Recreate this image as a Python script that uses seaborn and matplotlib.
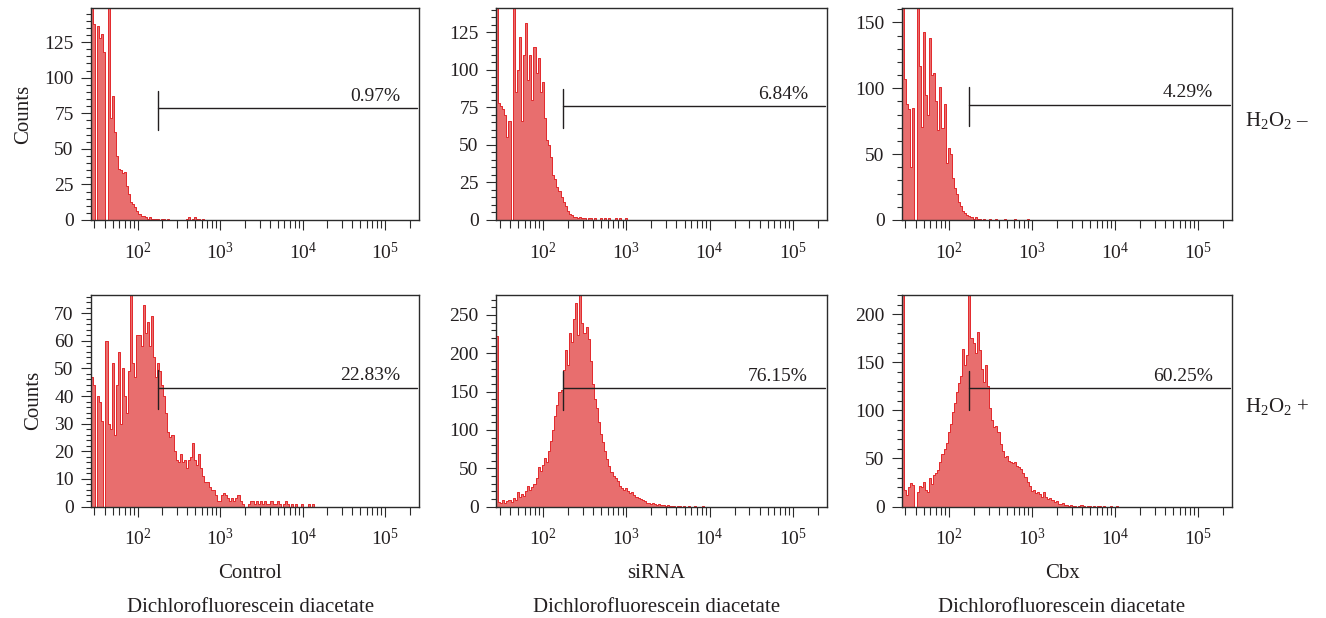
import numpy as np
import pandas as pd
import matplotlib
matplotlib.use("Agg")
import matplotlib.pyplot as plt
import matplotlib.ticker as mticker
import seaborn as sns

# ---------------- data ----------------
LOG_START = 1.435      # log10 of the first bin edge
BIN_W = 0.025          # bin width in log10 units

# counts per log bin, H2O2 - row
ctrl_neg = [150, 138, 0, 136, 128, 131, 118, 0, 150, 72, 87, 62, 45, 36, 35, 33, 34, 24, 18, 13,
            11, 9, 6, 4, 3, 3, 2, 1, 2, 1, 1, 1, 1, 0, 1, 1, 0, 1, 0, 0,
            0, 0, 0, 0, 0, 0, 1, 2, 0, 1, 2, 1, 1, 0, 1]
sirna_neg = [145, 78, 76, 74, 70, 55, 66, 0, 145, 85, 100, 122, 66, 110, 131, 93, 110, 80, 115, 98,
             108, 85, 92, 68, 53, 50, 42, 30, 27, 22, 19, 15, 12, 9, 6, 4, 3, 2, 2, 1,
             2, 1, 1, 0, 1, 1, 0, 1, 0, 0, 1, 0, 1, 0, 1, 0, 0, 1, 0, 1, 0, 0, 1]
cbx_neg = [165, 107, 88, 84, 40, 85, 0, 165, 117, 71, 143, 95, 80, 138, 110, 112, 90, 68, 101, 70,
           88, 43, 55, 50, 32, 24, 20, 14, 11, 7, 5, 4, 3, 2, 1, 2, 1, 1, 0, 1,
           0, 0, 1, 0, 0, 1, 0, 0, 0, 1, 0, 0, 0, 0, 1, 0, 0, 0, 0, 0, 1]
# counts per log bin, H2O2 + row
ctrl_pos = [47, 44, 0, 40, 38, 31, 0, 60, 30, 28, 52, 26, 44, 56, 30, 50, 40, 34, 49, 80,
            52, 47, 62, 62, 58, 73, 63, 67, 58, 69, 54, 47, 52, 49, 44, 40, 34, 27, 25, 26,
            20, 17, 16, 19, 16, 17, 14, 17, 18, 23, 17, 15, 19, 14, 11, 9, 9, 7, 6, 6,
            4, 2, 2, 4, 5, 4, 3, 2, 3, 2, 3, 4, 2, 1, 0, 0, 1, 2, 2, 1,
            2, 1, 2, 1, 2, 1, 1, 2, 1, 1, 2, 1, 0, 1, 2, 1, 0, 1, 0, 1,
            0, 0, 1, 0, 0, 1, 0, 1]
sirna_pos = [222, 6, 4, 8, 5, 7, 9, 6, 11, 9, 19, 12, 16, 14, 20, 27, 21, 25, 30, 37,
             52, 46, 54, 63, 58, 72, 86, 100, 118, 132, 150, 152, 178, 204, 185, 226, 215, 245, 266, 224,
             280, 240, 226, 234, 218, 190, 160, 140, 128, 110, 94, 84, 73, 62, 53, 45, 40, 37, 33, 27,
             24, 22, 24, 20, 18, 19, 15, 13, 11, 10, 9, 7, 5, 4, 3, 4, 3, 2, 3, 2,
             2, 1, 2, 1, 1, 1, 0, 1, 1, 0, 1, 0, 1, 0, 0, 1, 0, 0, 0, 1]
cbx_pos = [225, 17, 12, 20, 24, 22, 0, 15, 21, 20, 26, 17, 15, 30, 23, 33, 35, 38, 46, 55,
           60, 66, 78, 86, 98, 108, 119, 128, 136, 164, 147, 158, 225, 175, 170, 160, 182, 163, 143, 130,
           147, 125, 102, 90, 83, 84, 77, 65, 58, 51, 53, 47, 46, 45, 46, 42, 41, 39, 35, 31,
           25, 21, 16, 17, 14, 15, 13, 10, 15, 10, 8, 9, 7, 5, 6, 3, 3, 4, 2, 2,
           1, 2, 1, 1, 0, 1, 2, 1, 0, 1, 1, 0, 1, 0, 1, 1, 0, 1, 0, 0,
           1, 0, 0, 1]

counts = [[ctrl_neg, sirna_neg, cbx_neg], [ctrl_pos, sirna_pos, cbx_pos]]
conditions = ["Control", "siRNA", "Cbx"]
treatments = ["H$_2$O$_2$ \u2013", "H$_2$O$_2$ +"]
gate_pct = [["0.97%", "6.84%", "4.29%"], ["22.83%", "76.15%", "60.25%"]]
gate_level = [[78.5, 75.5, 87.6], [43, 154.4, 123]]
gate_start = 175
gate_end = 2.4e5
y_top = [[149, 141, 161], [76.6, 276, 220]]
y_step = [[25, 25, 50], [10, 50, 50]]
x_label = "Dichlorofluorescein diacetate"

# ---------------- style ----------------
sns.set_style("ticks")
plt.rcParams["font.family"] = ["Liberation Serif", "DejaVu Serif"]
plt.rcParams["mathtext.fontset"] = "custom"
plt.rcParams["mathtext.rm"] = "Liberation Serif"
plt.rcParams["mathtext.it"] = "Liberation Serif:italic"
plt.rcParams["mathtext.bf"] = "Liberation Serif:bold"

FILL = "#E86E6E"
EDGE = "#E3282B"
INK = "#231F20"
SPINE = "#2B2B2B"

fig = plt.figure(figsize=(13.26, 6.18), dpi=100)
W, H = 1326.0, 618.0
col_px = [(91, 328), (496, 331), (902, 330)]
row_px = [(8, 220), (295, 506.5)]

for r in range(2):
    for c in range(3):
        x0, w = col_px[c]
        top, bot = row_px[r]
        ax = fig.add_axes([x0 / W, 1 - bot / H, w / W, (bot - top) / H])
        cnt = np.asarray(counts[r][c], dtype=float)
        n = len(cnt)
        centers = LOG_START + BIN_W * (np.arange(n) + 0.5)
        df = pd.DataFrame({"fl": 10 ** centers, "n": cnt})
        sns.histplot(data=df, x="fl", weights="n", bins=n,
                     binrange=(LOG_START, LOG_START + BIN_W * n),
                     log_scale=True, element="step", fill=True,
                     facecolor=FILL, edgecolor=EDGE, linewidth=0.7, alpha=1,
                     ax=ax)
        ax.set_xlim(10 ** 1.435, 10 ** 5.41)
        ax.set_ylim(0, y_top[r][c])
        ax.set_xlabel("")
        ax.set_ylabel("")

        ax.xaxis.set_major_locator(mticker.LogLocator(base=10, numticks=12))
        ax.xaxis.set_minor_locator(mticker.LogLocator(base=10, subs=np.arange(2, 10), numticks=100))
        ax.xaxis.set_minor_formatter(mticker.NullFormatter())
        ax.yaxis.set_major_locator(mticker.MultipleLocator(y_step[r][c]))
        ax.yaxis.set_minor_locator(mticker.MultipleLocator(y_step[r][c] / 5))

        ax.tick_params(axis="both", which="major", direction="out", length=7.5, width=0.8,
                       color=SPINE, labelsize=14, labelcolor=INK)
        ax.tick_params(axis="x", which="major", pad=8)
        ax.tick_params(axis="y", which="major", pad=5)
        ax.tick_params(axis="x", which="minor", direction="out", length=5.5, width=0.8, color=SPINE)
        ax.tick_params(axis="y", which="minor", direction="out", length=3.5, width=0.8, color=SPINE)
        for sp in ax.spines.values():
            sp.set_visible(True)
            sp.set_color(SPINE)
            sp.set_linewidth(1.0)

        # gate marker
        gy = gate_level[r][c]
        yt = y_top[r][c]
        ax.plot([gate_start, gate_start], [gy - 0.102 * yt, gy + 0.083 * yt], color=INK, lw=1.0)
        ax.plot([gate_start, gate_end], [gy, gy], color=INK, lw=1.0)
        ax.annotate(gate_pct[r][c], xy=(0.942, gy), xycoords=("axes fraction", "data"),
                    xytext=(0, 5.5), textcoords="offset points", ha="right", va="baseline",
                    fontsize=14, color=INK)

        if c == 0:
            ax.set_ylabel("Counts", fontsize=15, color=INK, labelpad=8)
        if c == 2:
            ax.text(1.04, 0.445, treatments[r], transform=ax.transAxes, ha="left",
                    va="baseline", fontsize=15, color=INK)
        if r == 1:
            ax.text(0.485, -0.338, conditions[c], transform=ax.transAxes, ha="center",
                    va="baseline", fontsize=15, color=INK)
            ax.text(0.485, -0.497, x_label, transform=ax.transAxes, ha="center",
                    va="baseline", fontsize=15, color=INK)

fig.savefig("out.png", dpi=100)
